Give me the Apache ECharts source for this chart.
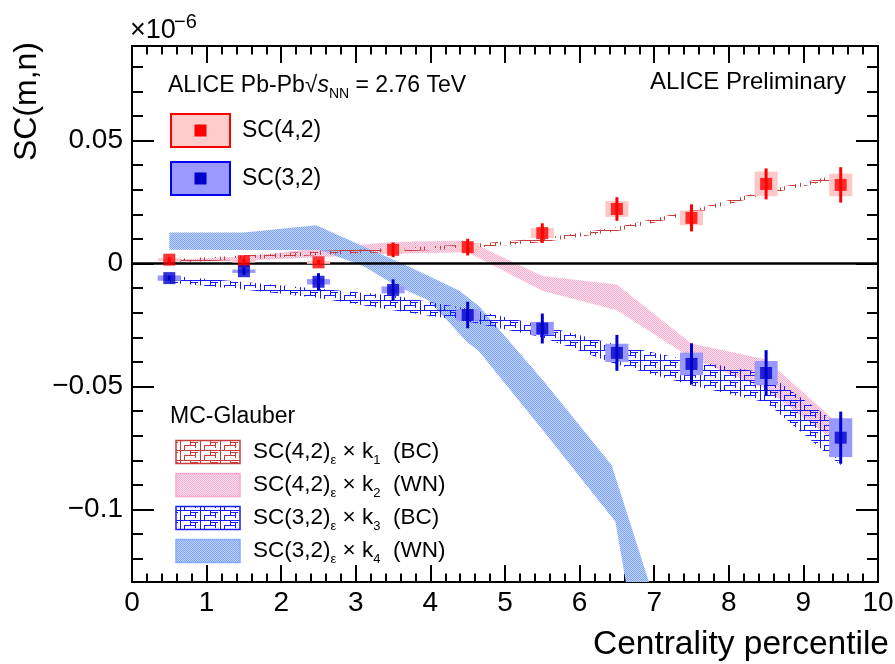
<!DOCTYPE html>
<html><head><meta charset="utf-8">
<script src="https://cdn.jsdelivr.net/npm/echarts@6/dist/echarts.min.js"></script>
<style>html,body{margin:0;padding:0;background:#fff}#c{width:895px;height:664px}</style>
</head><body><div id="c"></div>
<script>
// ---------------- data ----------------
const centrality = [0.5, 1.5, 2.5, 3.5, 4.5, 5.5, 6.5, 7.5, 8.5, 9.5];
const sc42 = [0.0016, 0.0010, 0.0005, 0.0056, 0.0067, 0.0124, 0.0222, 0.0186, 0.0324, 0.0320];
const sc42Stat = [0.0010, 0.0010, 0.0010, 0.0030, 0.0034, 0.0040, 0.0048, 0.0055, 0.0063, 0.0072];
const sc42Sys = [0.0006, 0.0006, 0.0006, 0.0014, 0.0017, 0.0020, 0.0032, 0.0030, 0.0050, 0.0046];
const sc32 = [-0.0059, -0.0031, -0.0074, -0.0107, -0.0209, -0.0264, -0.0363, -0.0408, -0.0445, -0.0708];
const sc32Stat = [0.0010, 0.0015, 0.0035, 0.0043, 0.0054, 0.0061, 0.0073, 0.0084, 0.0093, 0.0106];
const sc32Sys = [0.0011, 0.0007, 0.0011, 0.0014, 0.0024, 0.0027, 0.0037, 0.0046, 0.0049, 0.0079];

// MC-Glauber SC(4,2)_eps x k1 (BC)
const bc42Low = [0.0002, 0.0017, 0.0035, 0.0047, 0.0062, 0.0087, 0.0132, 0.0202, 0.0282, 0.0347];
const bc42High = [0.0018, 0.0033, 0.0051, 0.0063, 0.0078, 0.0103, 0.0148, 0.0218, 0.0298, 0.0363];
// MC-Glauber SC(4,2)_eps x k2 (WN)
const wn42Low = [0.0008, 0.0012, 0.0026, 0.0040, 0.0046, -0.0110, -0.0190, -0.0385, -0.0510, -0.0740];
const wn42High = [0.0016, 0.0028, 0.0062, 0.0088, 0.0094, -0.0050, -0.0085, -0.0325, -0.0390, -0.0660];
// MC-Glauber SC(3,2)_eps x k3 (BC)
const bc32Low = [-0.0077, -0.0105, -0.0140, -0.0190, -0.0236, -0.0300, -0.0410, -0.0495, -0.0565, -0.0820];
const bc32High = [-0.0049, -0.0075, -0.0102, -0.0130, -0.0184, -0.0252, -0.0330, -0.0395, -0.0445, -0.0660];
// MC-Glauber SC(3,2)_eps x k4 (WN) : edges read separately
const wn32UpX = [0.5, 1.5, 2.47, 3.09, 3.68, 4.39, 4.65, 5.54, 6.43, 6.93];
const wn32Up = [0.0126, 0.0126, 0.0156, 0.0072, -0.0008, -0.0110, -0.0172, -0.0486, -0.0820, -0.1295];
const wn32LowX = [0.5, 1.5, 2.5, 3.09, 3.54, 3.98, 4.48, 4.65, 5.54, 6.48, 6.62];
const wn32Low = [0.0056, 0.0055, 0.0055, -0.0008, -0.0090, -0.0150, -0.0316, -0.0357, -0.0690, -0.1050, -0.1295];

const yMin = -0.1295, yMax = 0.0885;
const xMin = 0, xMax = 10;

// ---------------- styling helpers ----------------
const FONT = '"Liberation Sans", Arial, Helvetica, sans-serif';
const BOX_HALF = 0.155;

function makeChecker(c1, c2) {
  const c = document.createElement('canvas');
  c.width = 2; c.height = 2;
  const g = c.getContext('2d');
  g.fillStyle = c2; g.fillRect(0, 0, 2, 2);
  g.fillStyle = c1;
  g.fillRect(0, 0, 1, 1); g.fillRect(1, 1, 1, 1);
  return c;
}
function makeMeander(color) {
  const c = document.createElement('canvas');
  c.width = 20; c.height = 10;
  const g = c.getContext('2d');
  g.strokeStyle = color; g.lineWidth = 1;
  g.beginPath();
  g.moveTo(0, 0.5); g.lineTo(20, 0.5);
  g.moveTo(0.5, 0); g.lineTo(0.5, 10);
  g.moveTo(10.5, 0); g.lineTo(10.5, 5);
  g.moveTo(4, 5.5); g.lineTo(15, 5.5);
  g.moveTo(4.5, 5); g.lineTo(4.5, 10);
  g.moveTo(15.5, 2); g.lineTo(15.5, 8);
  g.moveTo(10, 2.5); g.lineTo(18, 2.5);
  g.stroke();
  return c;
}
const patBC42 = makeMeander('#c83c3c');
const patWN42 = makeChecker('#f8a9cc', '#fde6f0');
const patBC32 = makeMeander('#1a1aff');
const patWN32 = makeChecker('#7aa0f7', '#c4d6fc');

function bandSeries(upX, upY, lowX, lowY, pattern, z) {
  return {
    type: 'custom', coordinateSystem: 'cartesian2d', clip: true, silent: true, z: z,
    data: upX.map((x, i) => [x, upY[i]]),
    encode: { x: 0, y: 1 },
    renderItem: function (params, api) {
      if (params.dataIndex !== 0) return null;
      const pts = [];
      for (let i = 0; i < upX.length; i++) pts.push(api.coord([upX[i], upY[i]]));
      for (let i = lowX.length - 1; i >= 0; i--) pts.push(api.coord([lowX[i], lowY[i]]));
      return { type: 'polygon', shape: { points: pts }, style: { fill: { image: pattern, repeat: 'repeat' } } };
    }
  };
}
function boxSeries(xs, ys, sys, color) {
  return {
    type: 'custom', coordinateSystem: 'cartesian2d', silent: true, z: 3,
    data: xs.map((x, i) => [x, ys[i], sys[i]]),
    encode: { x: 0, y: 1 },
    renderItem: function (params, api) {
      const x = api.value(0), y = api.value(1), s = api.value(2);
      const a = api.coord([x - BOX_HALF, y + s]), b = api.coord([x + BOX_HALF, y - s]);
      return { type: 'rect', shape: { x: a[0], y: a[1], width: b[0] - a[0], height: b[1] - a[1] }, style: { fill: color } };
    }
  };
}
function errSeries(xs, ys, err, color) {
  return {
    type: 'custom', coordinateSystem: 'cartesian2d', silent: true, z: 4,
    data: xs.map((x, i) => [x, ys[i], err[i]]),
    encode: { x: 0, y: 1 },
    renderItem: function (params, api) {
      const x = api.value(0), y = api.value(1), e = api.value(2);
      const a = api.coord([x, y - e]), b = api.coord([x, y + e]);
      return { type: 'line', shape: { x1: a[0], y1: a[1], x2: b[0], y2: b[1] }, style: { stroke: color, lineWidth: 3 } };
    }
  };
}

function fmtY(v) {
  if (Math.abs(v) < 1e-9) return '0';
  return String(+v.toFixed(3)).replace('-', '\u2212');
}

const axisLineStyle = { color: '#000', width: 2 };
function xAxisDef(pos, labels) {
  return {
    type: 'value', min: xMin, max: xMax, interval: 1, position: pos,
    axisLine: { show: true, onZero: false, lineStyle: axisLineStyle },
    axisTick: { show: true, inside: true, length: 17, lineStyle: axisLineStyle },
    minorTick: { show: true, splitNumber: 5, length: 8.5, lineStyle: axisLineStyle },
    axisLabel: { show: labels, fontSize: 28, fontFamily: FONT, color: '#000', margin: 7 },
    splitLine: { show: false }, minorSplitLine: { show: false }
  };
}
function yAxisDef(pos, labels) {
  return {
    type: 'value', min: yMin, max: yMax, splitNumber: 4, minInterval: 0.05, maxInterval: 0.05, position: pos,
    axisLine: { show: true, onZero: false, lineStyle: axisLineStyle },
    axisTick: { show: true, inside: true, length: 22, lineStyle: axisLineStyle },
    minorTick: { show: true, splitNumber: 5, length: 11, lineStyle: axisLineStyle },
    axisLabel: { show: labels, fontSize: 28, fontFamily: FONT, color: '#000', margin: 9,
      showMinLabel: false, showMaxLabel: false, formatter: fmtY },
    splitLine: { show: false }, minorSplitLine: { show: false }
  };
}

// legend text helpers
const T = (size, extra) => Object.assign({ fontSize: size, fontFamily: FONT, fill: '#000', color: '#000', lineHeight: 30, verticalAlign: 'middle' }, extra || {});
const SUB = (size) => ({ fontSize: size, fontFamily: FONT, fill: '#000', color: '#000', lineHeight: size, verticalAlign: 'bottom' });

function modelLegend(y, pattern, stroke, sc, k, tag) {
  return [
    { type: 'rect', shape: { x: 176, y: y - 11.5, width: 64, height: 23 }, style: { fill: { image: pattern, repeat: 'repeat' }, stroke: stroke, lineWidth: 1.5 }, z: 100 },
    { type: 'text', x: 253, y: y, z: 100, style: {
      text: '{a|SC(' + sc + ')}{s|\u03b5}{a| \u00d7 k}{s|' + k + '}{a|  (' + tag + ')}',
      verticalAlign: 'middle', align: 'left',
      rich: { a: T(22.5), s: SUB(13) } } }
  ];
}

const graphics = [
  // axis titles
  { type: 'text', x: 27, y: 42, rotation: Math.PI / 2, z: 100,
    style: { text: 'SC(m,n)', fontSize: 32, fontFamily: FONT, fill: '#000', align: 'right', verticalAlign: 'middle' } },
  { type: 'text', x: 889, y: 645, z: 100,
    style: { text: 'Centrality percentile', fontSize: 33.5, fontFamily: FONT, fill: '#000', align: 'right', verticalAlign: 'middle' } },
  // exponent
  { type: 'text', x: 130, y: 31, z: 100, style: { text: '\u00d710', fontSize: 27, fontFamily: FONT, fill: '#000', align: 'left', verticalAlign: 'middle' } },
  { type: 'text', x: 174, y: 22, z: 100, style: { text: '\u22126', fontSize: 20, fontFamily: FONT, fill: '#000', align: 'left', verticalAlign: 'middle' } },
  // headers
  { type: 'text', x: 168, y: 86, z: 100, style: {
    text: '{a|ALICE Pb-Pb}{a|\u221a}{i|s}{s|NN}{a| = 2.76 TeV}', align: 'left', verticalAlign: 'middle',
    rich: { a: T(23), i: T(23, { fontStyle: 'italic' }), s: SUB(14) } } },
  { type: 'text', x: 846, y: 82, z: 100, style: { text: 'ALICE Preliminary', fontSize: 24, fontFamily: FONT, fill: '#000', align: 'right', verticalAlign: 'middle' } },
  // data legend
  { type: 'rect', shape: { x: 171, y: 114, width: 59, height: 33 }, style: { fill: '#ffcccc', stroke: '#ff0000', lineWidth: 2 }, z: 100 },
  { type: 'rect', shape: { x: 194.5, y: 124.5, width: 12, height: 12 }, style: { fill: '#ff0000' }, z: 101 },
  { type: 'text', x: 242, y: 131, z: 100, style: { text: 'SC(4,2)', fontSize: 23, fontFamily: FONT, fill: '#000', align: 'left', verticalAlign: 'middle' } },
  { type: 'rect', shape: { x: 171, y: 162, width: 59, height: 33 }, style: { fill: '#9999ff', stroke: '#0000ee', lineWidth: 2 }, z: 100 },
  { type: 'rect', shape: { x: 194.5, y: 172.5, width: 12, height: 12 }, style: { fill: '#0000cc' }, z: 101 },
  { type: 'text', x: 242, y: 179, z: 100, style: { text: 'SC(3,2)', fontSize: 23, fontFamily: FONT, fill: '#000', align: 'left', verticalAlign: 'middle' } },
  // model legend
  { type: 'text', x: 170, y: 417, z: 100, style: { text: 'MC-Glauber', fontSize: 23, fontFamily: FONT, fill: '#000', align: 'left', verticalAlign: 'middle' } }
].concat(
  modelLegend(452, patBC42, '#c83c3c', '4,2', '1', 'BC'),
  modelLegend(485, patWN42, '#ffa6cc', '4,2', '2', 'WN'),
  modelLegend(518, patBC32, '#1a1aff', '3,2', '3', 'BC'),
  modelLegend(551, patWN32, '#86aaff', '3,2', '4', 'WN')
);

const option = {
  animation: false,
  backgroundColor: '#ffffff',
  grid: { left: 132, right: 17, top: 46, bottom: 82, containLabel: false, outerBoundsMode: 'none' },
  xAxis: [xAxisDef('bottom', true), xAxisDef('top', false)],
  yAxis: [yAxisDef('left', true), yAxisDef('right', false)],
  graphic: graphics,
  series: [
    bandSeries(centrality, wn42High, centrality, wn42Low, patWN42, 1),
    bandSeries(wn32UpX, wn32Up, wn32LowX, wn32Low, patWN32, 1),
    bandSeries(centrality, bc42High, centrality, bc42Low, patBC42, 1),
    bandSeries(centrality, bc32High, centrality, bc32Low, patBC32, 1),
    boxSeries(centrality, sc42, sc42Sys, '#ffc8c8'),
    boxSeries(centrality, sc32, sc32Sys, '#9999ff'),
    errSeries(centrality, sc42, sc42Stat, '#ff0000'),
    errSeries(centrality, sc32, sc32Stat, '#0000cc'),
    { type: 'scatter', name: 'SC(4,2)', data: centrality.map((x, i) => [x, sc42[i]]), symbol: 'rect', symbolSize: 12,
      itemStyle: { color: '#ff0000' }, z: 5, silent: true,
      markLine: { silent: true, symbol: 'none', z: 2, animation: false, label: { show: false },
        lineStyle: { color: '#000', width: 2.5, type: 'solid' }, data: [{ yAxis: 0 }] } },
    { type: 'scatter', name: 'SC(3,2)', data: centrality.map((x, i) => [x, sc32[i]]), symbol: 'rect', symbolSize: 12,
      itemStyle: { color: '#0000cc' }, z: 5, silent: true }
  ]
};
const chart = echarts.init(document.getElementById('c'));
chart.setOption(option);
</script>
</body></html>
